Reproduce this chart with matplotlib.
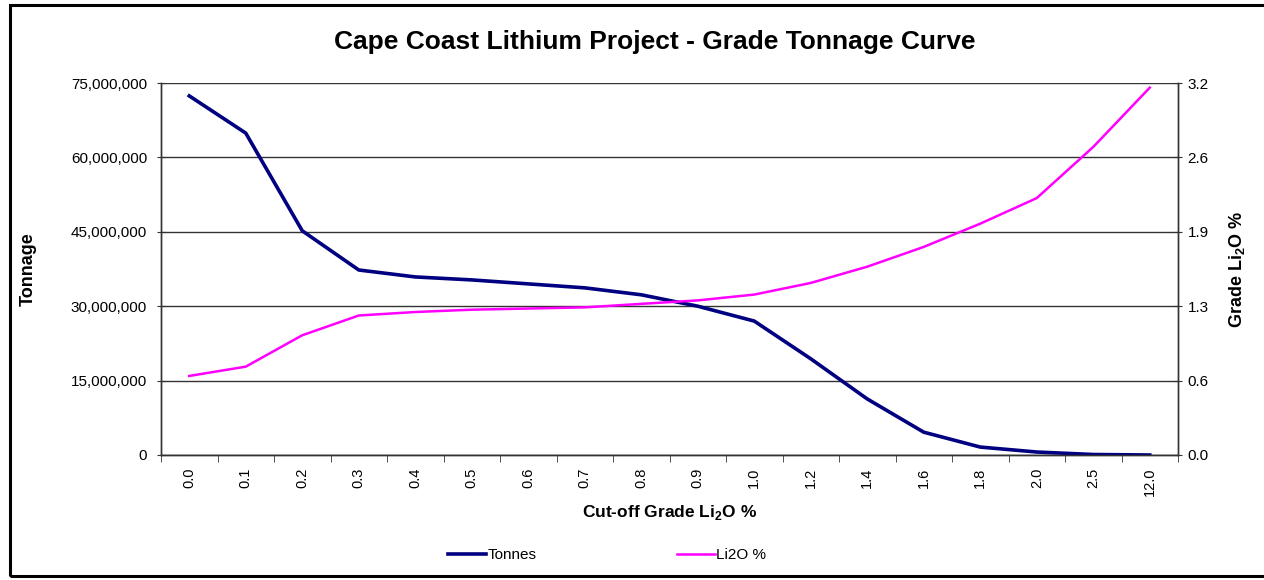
import numpy as np
import matplotlib
matplotlib.use("Agg")
import matplotlib.pyplot as plt
from matplotlib.ticker import FuncFormatter, FixedLocator
from matplotlib.patches import Rectangle

plt.rcParams['font.family'] = ['Liberation Sans', 'DejaVu Sans']
plt.rcParams['mathtext.fontset'] = 'custom'
plt.rcParams['mathtext.rm'] = 'Liberation Sans'
plt.rcParams['mathtext.bf'] = 'Liberation Sans:bold'

# cut-off grades (category labels)
cutoffs = ["0.0", "0.1", "0.2", "0.3", "0.4", "0.5", "0.6", "0.7", "0.8",
           "0.9", "1.0", "1.2", "1.4", "1.6", "1.8", "2.0", "2.5", "12.0"]
# tonnes above cut-off
tonnes = [72.4e6, 64.9e6, 45.2e6, 37.3e6, 35.9e6, 35.3e6, 34.5e6, 33.7e6, 32.3e6,
          30.0e6, 27.0e6, 19.4e6, 11.3e6, 4.6e6, 1.6e6, 0.6e6, 0.1e6, 0.0]
# average grade Li2O %
grade = [0.68, 0.76, 1.03, 1.20, 1.23, 1.25, 1.26, 1.27, 1.30,
         1.33, 1.38, 1.48, 1.62, 1.79, 1.99, 2.21, 2.65, 3.16]

x = np.arange(len(cutoffs))

fig = plt.figure(figsize=(12.64, 5.8), dpi=100)
ax = fig.add_axes([161/1264, 125/580, (1178-161)/1264, (455-83)/580])
ax2 = ax.twinx()

l1, = ax.plot(x, tonnes, color='#000080', lw=2.6, label='Tonnes', zorder=3)
l2, = ax2.plot(x, grade, color='#FF00FF', lw=1.8, label='Li2O %', zorder=3)

ax.set_xlim(-0.5, len(cutoffs) - 0.5)
ax.set_ylim(0, 75e6)
ax.set_yticks(np.arange(0, 75e6 + 1, 15e6))
ax.yaxis.set_major_formatter(FuncFormatter(lambda v, p: f"{int(v):,}"))
ax.grid(axis='y', color='#333333', lw=1.0)
ax.set_axisbelow(True)

ax2.set_ylim(0, 3.2)
ax2.set_yticks(np.arange(0, 3.21, 0.64))
ax2.yaxis.set_major_formatter(FuncFormatter(lambda v, p: f"{v:.1f}"))

ax.set_xticks(x)
ax.set_xticklabels(cutoffs, rotation=90, fontsize=10.5)
ax.xaxis.set_minor_locator(FixedLocator(np.arange(-0.5, len(cutoffs), 1.0)))
ax.tick_params(axis='x', which='major', length=0, pad=9)
ax.tick_params(axis='x', which='minor', length=5, direction='out', color='#333333')
ax.tick_params(axis='y', length=6, direction='inout', labelsize=11, color='#333333', pad=7)
ax2.tick_params(axis='y', length=6, direction='inout', labelsize=11, color='#333333', pad=4)

for a in (ax, ax2):
    a.spines['top'].set_visible(False)
    for s in ('left', 'right', 'bottom'):
        a.spines[s].set_color('#333333')
        a.spines[s].set_linewidth(1.0)

ax.set_xlabel(r'Cut-off Grade Li$_\mathbf{2}$O %', fontsize=12.5, fontweight='bold', labelpad=5)
ax.set_ylabel('Tonnage', fontsize=13, fontweight='bold')
ax2.set_ylabel(r'Grade Li$_\mathbf{2}$O %', fontsize=13, fontweight='bold', labelpad=13)
ax.yaxis.set_label_coords(-0.122, 0.5)

fig.text(655/1264, 1 - 42/580, 'Cape Coast Lithium Project - Grade Tonnage Curve',
         ha='center', va='center', fontsize=19, fontweight='bold')

fig.legend([l1, l2], ['Tonnes', 'Li2O %'], loc='center', ncol=2, frameon=False,
           bbox_to_anchor=(607/1264, 1 - 555/580), fontsize=11,
           handlelength=2.5, handletextpad=0.1, columnspacing=9.2)

fig.patches.append(Rectangle((10/1264, 4/580), 1.0, 1 - 9/580, transform=fig.transFigure,
                             fill=False, edgecolor='black', lw=2.2))

fig.savefig('out.png', dpi=100)
